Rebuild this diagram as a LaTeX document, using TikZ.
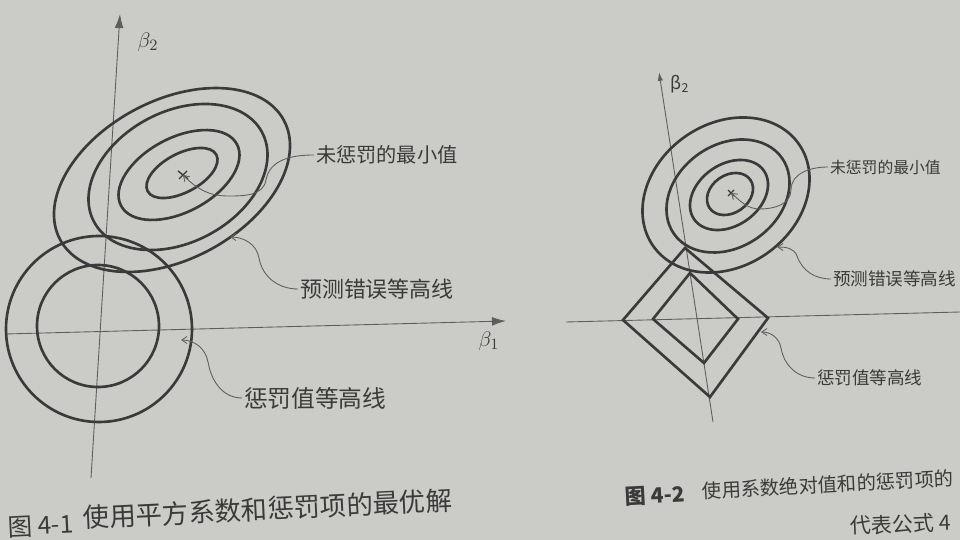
\documentclass[tikz,border=0pt]{standalone}
\usepackage{fontspec}
\setmainfont{Noto Sans CJK SC}
\usetikzlibrary{arrows.meta}
\definecolor{paper}{HTML}{CBCCC7}
\definecolor{ink}{HTML}{3A3A3A}
\definecolor{thin}{HTML}{5E5E5E}
\newcommand{\fs}[1]{\fontsize{#1}{#1}\selectfont}

\begin{document}
\begin{tikzpicture}[x=0.02cm,y=-0.02cm,
  ring/.style={draw=ink,line width=1.5pt},
  axisline/.style={draw=thin,line width=0.5pt},
  lead/.style={draw=thin,line width=0.5pt,-{Straight Barb[length=3pt,width=4pt]}},
  tag/.style={anchor=west,inner sep=1pt,text=ink}]
\clip (0,0) rectangle (960,540);
\fill[paper] (0,0) rectangle (960,540);

% left figure: squared penalty
\coordinate (b2Afoot) at (91,478);
\coordinate (b2Ahead) at (120,14);
\coordinate (b1Afoot) at (5,334);
\coordinate (b1Ahead) at (506,321);
\draw[axisline,-{Latex[length=8pt,width=5pt]}] (b2Afoot) -- (b2Ahead);
\draw[axisline,-{Latex[length=8pt,width=5pt]}] (b1Afoot) -- (b1Ahead);
\node[text=ink] (b2A) at (148,42) {\fs{13}$\beta_2$};
\node[text=ink] (b1A) at (489,341) {\fs{13}$\beta_1$};

\draw[ring] (99,329) circle [radius=93];
\draw[ring] (98,326) circle [radius=61];
\draw[ring,rotate around={28:(172,180)}] (172,180) ellipse [x radius=126.8,y radius=79.4];
\draw[ring,rotate around={28:(178,177)}] (178,177) ellipse [x radius=95.2,y radius=65.4];
\draw[ring,rotate around={28:(179,175)}] (179,175) ellipse [x radius=65.6,y radius=37.1];
\draw[ring,rotate around={28:(182,173)}] (182,173) ellipse [x radius=38.9,y radius=19.4];

\coordinate (minA) at (183,175);
\coordinate (errA) at (230,237);
\coordinate (penA) at (181,340);
\draw[ink,line width=0.8pt] (minA) ++(-5,-4) -- ++(10,8) (minA) ++(-4,4) -- ++(8,-8);

\node[tag] (lblMinA) at (314,155) {\fs{11.5}未惩罚的最小值};
\node[tag] (lblErrA) at (298,289) {\fs{12.5}预测错误等高线};
\node[tag] (lblPenA) at (242,398) {\fs{13.5}惩罚值等高线};
\draw[lead] (lblMinA.west) to[out=180,in=80] (266,180) to[out=260,in=0] (228,196) to[out=180,in=-45] (minA);
\draw[lead] (lblErrA.west) to[out=180,in=-80] (259,258) to[out=100,in=0] (errA);
\draw[lead] (lblPenA.west) to[out=180,in=-80] (208,362) to[out=100,in=0] (penA);

% right figure: absolute penalty
\coordinate (b2Bfoot) at (713,422);
\coordinate (b2Bhead) at (659,72);
\coordinate (b1Bfoot) at (566,322);
\coordinate (b1Bhead) at (960,312);
\draw[axisline,-{Latex[length=5pt,width=3pt]}] (b2Bfoot) -- (b2Bhead);
\draw[axisline] (b1Bfoot) -- (b1Bhead);
\node[text=ink] (b2B) at (680,84) {\fs{10}β\textsubscript{2}};

\draw[ring] (623,320) -- (685,248) -- (768,318) -- (710,397) -- cycle;
\draw[ring] (653,319) -- (690,273) -- (738,319) -- (704,363) -- cycle;
\draw[ring,rotate around={35:(726,195)}] (726,195) ellipse [x radius=88.9,y radius=71.3];
\draw[ring,rotate around={35:(728,196)}] (728,196) ellipse [x radius=66,y radius=51.2];
\draw[ring,rotate around={35:(729,195)}] (729,195) ellipse [x radius=42.5,y radius=30.7];
\draw[ring,rotate around={35:(730,194)}] (730,194) ellipse [x radius=24.8,y radius=18.9];

\coordinate (minB) at (731,193);
\coordinate (errB) at (777,247);
\coordinate (penB) at (761,332);
\draw[ink,line width=0.7pt] (minB) ++(-3,-3) -- ++(6,6) (minB) ++(-3,3) -- ++(6,-6);

\node[tag] (lblMinB) at (828,167) {\fs{9}未惩罚的最小值};
\node[tag] (lblErrB) at (831,279) {\fs{10}预测错误等高线};
\node[tag] (lblPenB) at (815,378) {\fs{10}惩罚值等高线};
\draw[lead] (lblMinB.west) to[out=180,in=90] (791,190) to[out=270,in=0] (760,209) to[out=180,in=-40] (minB);
\draw[lead] (lblErrB.west) to[out=180,in=-70] (797,256) to[out=110,in=0] (errB);
\draw[lead] (lblPenB.west) to[out=180,in=-80] (781,348) to[out=100,in=0] (penB);

% captions
\node[anchor=east,inner sep=0pt,text=ink,rotate=2.8] (capA) at (74,524) {\fs{14}图 4-1};
\node[anchor=west,inner sep=0pt,text=ink,rotate=2.8] (capAtext) at (83,518) {\fs{15}使用平方系数和惩罚项的最优解};
\node[anchor=west,inner sep=0pt,text=ink,rotate=3] (capB) at (625,497) {\fs{12}\bfseries 图 4-2};
\node[anchor=west,inner sep=0pt,text=ink,rotate=3] (capBtext) at (702,491) {\fs{11}使用系数绝对值和的惩罚项的};
\node[anchor=west,inner sep=0pt,text=ink,rotate=2] (body) at (850,526) {\fs{12}代表公式 4};
\end{tikzpicture}
\end{document}
